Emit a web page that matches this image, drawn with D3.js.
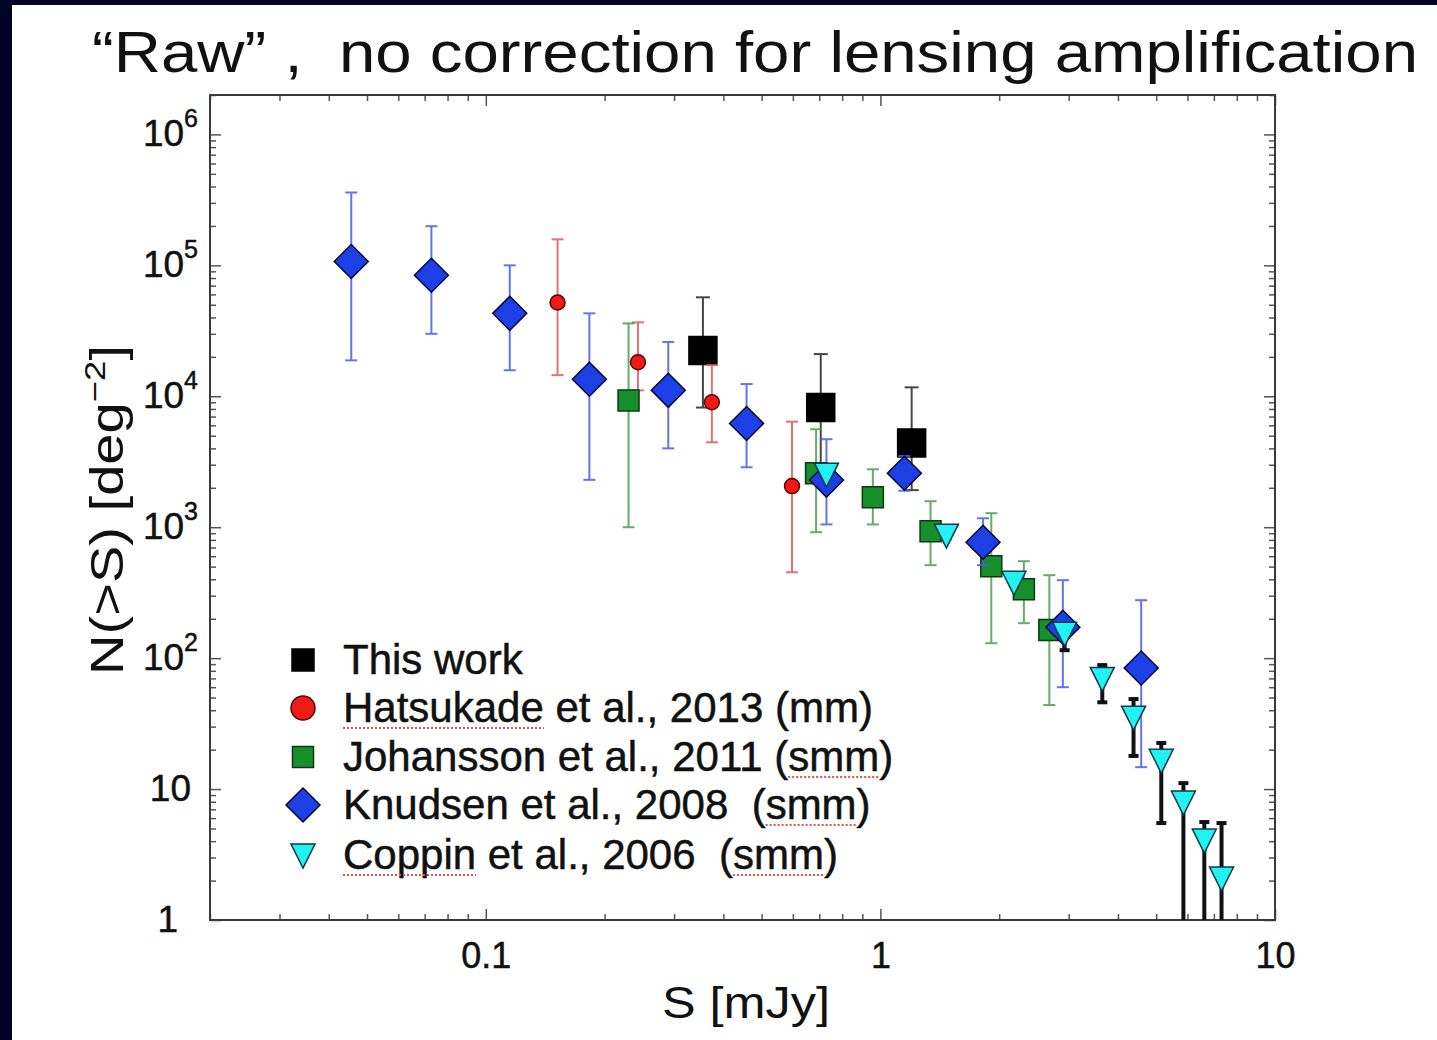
<!DOCTYPE html>
<html>
<head>
<meta charset="utf-8">
<script src="https://cdn.jsdelivr.net/npm/d3@7"></script>
<style>
  body { margin: 0; background: #03032a; }
  svg { display: block; }
  text { font-family: "Liberation Sans", Arial, sans-serif; fill: #111; stroke: #111; stroke-width: 0.5px; }
  text.thin { stroke: none; }
</style>
</head>
<body>
<script>
// "This work" (black squares)
const thisWorkS = [0.355, 0.706, 1.2];
const thisWorkN = [2.24e4, 8.2e3, 4.4e3];
const thisWorkLo = [8.2e3, 2.7e3, 1.92e3];
const thisWorkHi = [5.7e4, 2.1e4, 1.17e4];

// Hatsukade et al. 2013 (red circles)
const hatsS = [0.152, 0.243, 0.374, 0.597];
const hatsN = [5.2e4, 1.82e4, 9.0e3, 2.06e3];
const hatsLo = [1.45e4, 1.11e4, 4.45e3, 453];
const hatsHi = [1.58e5, 3.67e4, 1.73e4, 6.4e3];

// Johansson et al. 2011 (green squares)
const johS = [0.23, 0.687, 0.957, 1.34, 1.91, 2.31, 2.68];
const johN = [9.3e3, 2.58e3, 1.69e3, 932, 504, 336, 164];
const johLo = [1e3, 916, 1.05e3, 513, 130, 185, 43.8];
const johHi = [3.6e4, 5.6e3, 2.77e3, 1.58e3, 1.28e3, 550, 430];

// Knudsen et al. 2008 (blue diamonds)
const knudS = [0.0456, 0.0728, 0.115, 0.183, 0.29, 0.458, 0.73, 1.15, 1.82, 2.9, 4.58];
const knudN = [1.07e5, 8.4e4, 4.3e4, 1.35e4, 1.11e4, 6.2e3, 2.29e3, 2.58e3, 768, 172, 84];
const knudLo = [1.88e4, 3.0e4, 1.58e4, 2.3e3, 4.0e3, 2.87e3, 1.05e3, 1.9e3, 513, 60, 14.7];
const knudHi = [3.6e5, 1.99e5, 1e5, 4.3e4, 2.6e4, 1.24e4, 4.7e3, 3.5e3, 1.17e3, 394, 277];

// Coppin et al. 2006 (cyan triangles)
const copS = [0.73, 1.47, 2.18, 2.93, 3.65, 4.38, 5.15, 5.86, 6.62, 7.32];
const copN = [2.54e3, 869, 380, 155, 70, 35.4, 16.6, 7.96, 4.08, 2.09];
const copLo = [2.4e3, 820, 360, 115, 46, 17.9, 5.5, 0.3, 0.3, 0.3];
const copHi = [2.7e3, 920, 400, 165, 88.5, 48.7, 22.5, 11.1, 5.6, 5.5];

const xDomain = [0.02, 10];
const yDomain = [1, 2e6];

const legendLabels = [
  "This work",
  "Hatsukade et al., 2013 (mm)",
  "Johansson et al., 2011 (smm)",
  "Knudsen et al., 2008  (smm)",
  "Coppin et al., 2006  (smm)"
];
// words that carry the red spell-check underline in the original slide
const legendUnderlined = [[], ["Hatsukade"], ["smm"], ["smm"], ["Coppin", "smm"]];

const width = 1437;
const height = 1040;
const margin = { top: 95, right: 162, bottom: 120, left: 210 };

const svg = d3
  .select("body")
  .append("svg")
  .attr("width", width)
  .attr("height", height);

// white slide panel
svg.append("rect")
  .attr("x", 12).attr("y", 5)
  .attr("width", width - 12).attr("height", height - 5)
  .attr("fill", "#ffffff");

svg.append("text")
  .attr("class", "thin")
  .attr("x", 92).attr("y", 72)
  .attr("font-size", 58)
  .attr("textLength", 1326)
  .attr("lengthAdjust", "spacingAndGlyphs")
  .style("white-space", "pre")
  .text("\u201cRaw\u201d ,  no correction for lensing amplification");

const xScale = d3.scaleLog().domain(xDomain).range([margin.left, width - margin.right]);
const yScale = d3.scaleLog().domain(yDomain).range([height - margin.bottom, margin.top]);

const isMajor = (v) => Math.abs(Math.log10(v) - Math.round(Math.log10(v))) < 1e-9;
const xMinor = xScale.ticks().filter((v) => !isMajor(v));
const xMajor = xScale.ticks().filter(isMajor);
const yMinor = yScale.ticks().filter((v) => !isMajor(v));
const yMajor = yScale.ticks().filter(isMajor);

const axes = svg.append("g").attr("class", "axes");
const x0 = margin.left, x1 = width - margin.right;
const y0 = height - margin.bottom, y1 = margin.top;

function tickAxis(axis, values, size, transform) {
  const g = axes.append("g")
    .attr("transform", transform)
    .call(axis.tickValues(values).tickSizeInner(-size).tickSizeOuter(0).tickFormat(""));
  g.select(".domain").remove();
  g.selectAll(".tick line").attr("stroke", "#555").attr("stroke-width", 1.5);
  return g;
}

// inward ticks on all four sides
tickAxis(d3.axisBottom(xScale), xMinor, 6, `translate(0,${y0})`);
tickAxis(d3.axisTop(xScale), xMinor, 6, `translate(0,${y1})`);
tickAxis(d3.axisLeft(yScale), yMinor, 6, `translate(${x0},0)`);
tickAxis(d3.axisRight(yScale), yMinor, 6, `translate(${x1},0)`);
tickAxis(d3.axisTop(xScale), xMajor, 11, `translate(0,${y1})`);
tickAxis(d3.axisRight(yScale), yMajor, 11, `translate(${x1},0)`);
const xMajorG = tickAxis(d3.axisBottom(xScale), xMajor, 11, `translate(0,${y0})`);
const yMajorG = tickAxis(d3.axisLeft(yScale), yMajor, 11, `translate(${x0},0)`);

// x tick labels
xMajorG.selectAll(".tick text")
  .attr("y", 48).attr("dy", 0)
  .attr("font-size", 36)
  .attr("fill", "#111")
  .text((d) => d3.format("~g")(d));

// y tick labels with powers of ten
yMajorG.selectAll(".tick text").each(function (d) {
  const t = d3.select(this).text("").attr("font-size", 37).attr("fill", "#111").attr("dy", "0.3em");
  const p = Math.round(Math.log10(d));
  if (p <= 1) {
    t.attr("x", p === 0 ? -32 : -19).text(String(d));
  } else {
    t.attr("x", -12);
    t.append("tspan").text("10");
    t.append("tspan").attr("font-size", 25).attr("dy", "-0.75em").text(String(p));
  }
});

// frame
axes.append("rect")
  .attr("x", x0).attr("y", y1)
  .attr("width", x1 - x0).attr("height", y0 - y1)
  .attr("fill", "none")
  .attr("stroke", "#3a3a3a")
  .attr("stroke-width", 2);

// axis titles
svg.append("text")
  .attr("class", "thin")
  .attr("x", 746).attr("y", 1018)
  .attr("text-anchor", "middle")
  .attr("font-size", 44)
  .attr("textLength", 168)
  .attr("lengthAdjust", "spacingAndGlyphs")
  .text("S [mJy]");

const yTitle = svg.append("text")
  .attr("class", "thin")
  .attr("transform", "translate(123,510) rotate(-90)")
  .attr("text-anchor", "middle")
  .attr("font-size", 46)
  .attr("textLength", 330)
  .attr("lengthAdjust", "spacingAndGlyphs");
yTitle.append("tspan").text("N(>S) [deg");
yTitle.append("tspan").attr("font-size", 30).attr("dy", "-0.6em").text("\u22122");
yTitle.append("tspan").attr("dy", "0.4em").text("]");

// markers
const squarePath = (s) => `M${-s / 2},${-s / 2}h${s}v${s}h${-s}Z`;
const diamondPath = (r) => `M0,${-r}L${r},0L0,${r}L${-r},0Z`;
const trianglePath = () => "M-12,-11L12,-11L0,13Z";
const circlePath = (r) => `M${r},0A${r},${r} 0 1,1 ${-r},0A${r},${r} 0 1,1 ${r},0Z`;

const seriesList = [
  { S: thisWorkS, N: thisWorkN, lo: thisWorkLo, hi: thisWorkHi,
    path: squarePath(28), fill: "#000000", stroke: "#000000",
    err: "#333333", errW: 2, errOp: 0.9, cap: 14, legendPath: squarePath(22) },
  { S: hatsS, N: hatsN, lo: hatsLo, hi: hatsHi,
    path: circlePath(7.5), fill: "#ee1c14", stroke: "#5a0000",
    err: "#e05a5a", errW: 2, errOp: 0.85, cap: 12, legendPath: circlePath(12) },
  { S: johS, N: johN, lo: johLo, hi: johHi,
    path: squarePath(21), fill: "#17902c", stroke: "#0a3a12",
    err: "#4aa04f", errW: 2, errOp: 0.85, cap: 12, legendPath: squarePath(21) },
  { S: knudS, N: knudN, lo: knudLo, hi: knudHi,
    path: diamondPath(17), fill: "#1d3fe6", stroke: "#07083a",
    err: "#4a5ee6", errW: 2, errOp: 0.85, cap: 12, legendPath: diamondPath(17) },
  { S: copS, N: copN, lo: copLo, hi: copHi,
    path: trianglePath(), fill: "#22f2f2", stroke: "#0a3a4a",
    err: "#111111", errW: 4, errOp: 1, cap: 10, legendPath: trianglePath() }
];

svg.append("defs").append("clipPath").attr("id", "plotclip")
  .append("rect")
  .attr("x", x0).attr("y", y1)
  .attr("width", x1 - x0).attr("height", y0 - y1);

const plot = svg.append("g").attr("clip-path", "url(#plotclip)");

seriesList.forEach((s) => {
  const pts = s.S.map((v, i) => ({ S: v, N: s.N[i], lo: s.lo[i], hi: s.hi[i] }));
  const g = plot.append("g");
  const eb = g.append("g")
    .attr("stroke", s.err)
    .attr("stroke-width", s.errW)
    .attr("opacity", s.errOp);
  eb.selectAll(".bar").data(pts).join("line")
    .attr("x1", (d) => xScale(d.S)).attr("x2", (d) => xScale(d.S))
    .attr("y1", (d) => yScale(d.lo)).attr("y2", (d) => yScale(d.hi));
  eb.selectAll(".capHi").data(pts).join("line")
    .attr("x1", (d) => xScale(d.S) - s.cap / 2).attr("x2", (d) => xScale(d.S) + s.cap / 2)
    .attr("y1", (d) => yScale(d.hi)).attr("y2", (d) => yScale(d.hi));
  eb.selectAll(".capLo").data(pts).join("line")
    .attr("x1", (d) => xScale(d.S) - s.cap / 2).attr("x2", (d) => xScale(d.S) + s.cap / 2)
    .attr("y1", (d) => yScale(d.lo)).attr("y2", (d) => yScale(d.lo));
  g.selectAll(".mk").data(pts).join("path")
    .attr("transform", (d) => `translate(${xScale(d.S)},${yScale(d.N)})`)
    .attr("d", s.path)
    .attr("fill", s.fill)
    .attr("stroke", s.stroke)
    .attr("stroke-width", 1.5);
});

// legend
const legendY = [660, 708, 757, 805, 855];
const legend = svg.append("g");
seriesList.forEach((s, i) => {
  legend.append("path")
    .attr("transform", `translate(303,${legendY[i]})`)
    .attr("d", s.legendPath)
    .attr("fill", s.fill)
    .attr("stroke", s.stroke)
    .attr("stroke-width", 1.5);
  const t = legend.append("text")
    .attr("x", 343).attr("y", legendY[i] + 14)
    .attr("font-size", 42)
    .style("white-space", "pre")
    .text(legendLabels[i]);
  const node = t.node();
  legendUnderlined[i].forEach((word) => {
    const idx = legendLabels[i].indexOf(word);
    const start = idx > 0 ? node.getSubStringLength(0, idx) : 0;
    const len = node.getSubStringLength(idx, word.length);
    legend.append("line")
      .attr("x1", 343 + start).attr("x2", 343 + start + len)
      .attr("y1", legendY[i] + 20).attr("y2", legendY[i] + 20)
      .attr("stroke", "#e05050")
      .attr("stroke-width", 2)
      .attr("stroke-dasharray", "2,2");
  });
});
</script>
</body>
</html>
